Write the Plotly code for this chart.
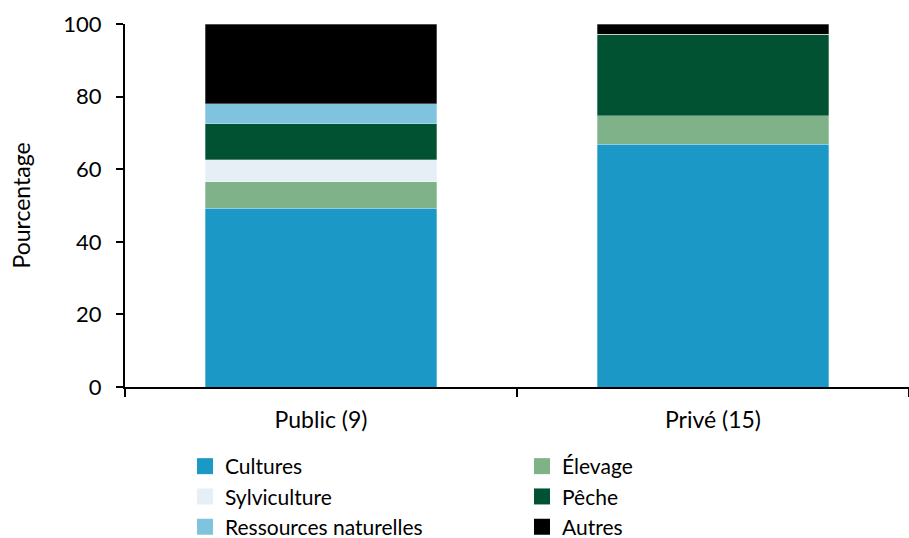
import plotly.graph_objects as go

categories = ["Public (9)", "Privé (15)"]
series_names = ["Cultures", "Élevage", "Sylviculture", "Pêche", "Ressources naturelles", "Autres"]
cultures = [49.2, 66.9]
elevage = [7.3, 7.8]
sylviculture = [6.1, 0.0]
peche = [9.9, 22.5]
ressources = [5.5, 0.0]
autres = [22.0, 2.8]
values = [cultures, elevage, sylviculture, peche, ressources, autres]
colors = ["#1B98C5", "#80B28A", "#E6EEF6", "#005232", "#7FC3DE", "#000000"]

font_family = "Lato, 'Open Sans', sans-serif"

fig = go.Figure()
for name, vals, col in zip(series_names, values, colors):
    fig.add_trace(go.Bar(
        x=categories, y=vals, name=name, showlegend=False,
        marker=dict(color=col, line=dict(color="rgba(255,255,255,0.5)", width=0.6)),
    ))
# legend entries with larger square symbols
for name, col in zip(series_names, colors):
    fig.add_trace(go.Scatter(
        x=[None], y=[None], name=name, mode="markers",
        marker=dict(symbol="square", size=16, color=col),
    ))

fig.update_layout(
    barmode="stack",
    bargap=0.41,
    width=909, height=538,
    margin=dict(l=125, r=0, t=24, b=151, autoexpand=False),
    plot_bgcolor="white", paper_bgcolor="white",
    font=dict(family=font_family, size=22, color="#000000"),
    legend=dict(
        orientation="h",
        xref="container", x=185 / 909, xanchor="left",
        yref="container", y=1 - 446 / 538, yanchor="top",
        entrywidth=292, entrywidthmode="pixels",
        font=dict(size=21), itemwidth=30, tracegroupgap=0,
        traceorder="normal",
    ),
    showlegend=True,
)
fig.update_yaxes(
    range=[0, 100], dtick=20, showgrid=False, zeroline=False,
    showline=True, linecolor="black", linewidth=2,
    ticks="outside", ticklen=7, tickcolor="black", tickwidth=1.5,
    ticklabelstandoff=10,
    title=dict(text="Pourcentage", font=dict(size=23), standoff=26),
    tickfont=dict(size=22),
)
fig.update_xaxes(
    showline=True, linecolor="black", linewidth=2,
    ticks="outside", tickson="boundaries", ticklen=8, tickcolor="black", tickwidth=1.5,
    ticklabelstandoff=11,
    tickfont=dict(size=23), showgrid=False,
)

fig.write_html("out.html")
